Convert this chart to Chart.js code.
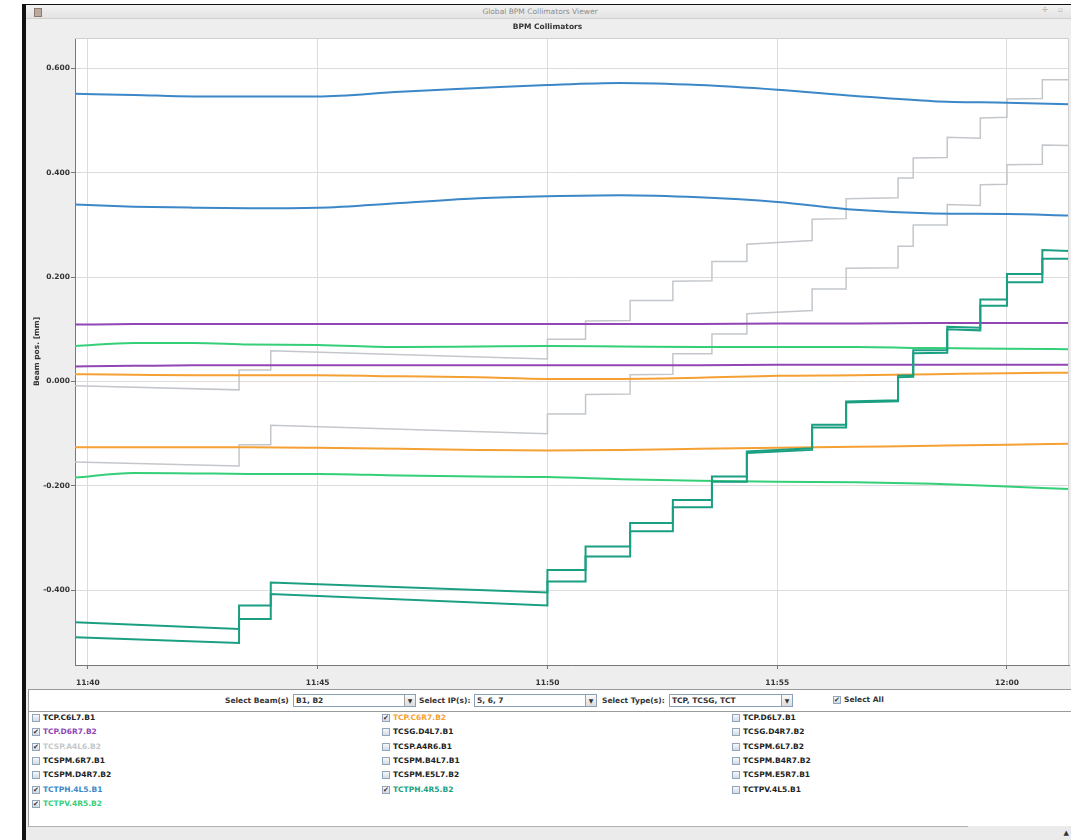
<!DOCTYPE html>
<html>
<head>
<meta charset="utf-8">
<title>Global BPM Collimators Viewer</title>
<script src="https://cdn.jsdelivr.net/npm/chart.js@4.4.1/dist/chart.umd.min.js"></script>
<style>
  html, body { margin: 0; padding: 0; background: #fff; }
  body { width: 1071px; height: 840px; position: relative; overflow: hidden; font-family: "DejaVu Sans", sans-serif; }
  #frame { position: absolute; left: 22px; top: 4px; width: 1049px; height: 836px; background: #eeeeee; border-left: 4px solid #111; border-top: 1px solid #111; box-sizing: border-box; }
  #titlebar { position: absolute; left: 26px; top: 5px; width: 1045px; height: 14px; background: linear-gradient(#f2f2f2, #e3e3e3); border-bottom: 1px solid #d0d0d0; box-sizing: border-box; }
  #titlebar .t { position: absolute; left: 0; top: 2px; width: 1028px; text-align: center; font-size: 7.5px; color: #8c8c8c; }
  #titlebar .icon { position: absolute; left: 8px; top: 3px; width: 6px; height: 7px; background: #b9a9a0; border: 1px solid #8a7a70; }
  #titlebar .btn { position: absolute; top: 1px; font-size: 7px; color: #b0b0b0; }
  #plot { position: absolute; left: 26px; top: 19px; }
  #sel { position: absolute; left: 28px; top: 689px; width: 1043px; height: 23px; background: #fff; border-top: 1px solid #9a9a9a; border-bottom: 1px solid #9a9a9a; border-left: 1px solid #9a9a9a; box-sizing: border-box; }
  .lbl { position: absolute; top: 6px; font-size: 7.5px; font-weight: bold; color: #333; white-space: nowrap; }
  .combo { position: absolute; top: 4px; height: 13px; background: #fff; border: 1px solid #8aa0b8; box-sizing: border-box; }
  .combo span { position: absolute; left: 2px; top: 1px; font-size: 7.5px; font-weight: bold; color: #333; white-space: nowrap; }
  .combo i { position: absolute; right: 0; top: 0; width: 10px; height: 11px; background: linear-gradient(#fafafa, #dcdcdc); border-left: 1px solid #a0a0a0; font-style: normal; font-size: 6px; text-align: center; line-height: 11px; color: #333; }
  #list { position: absolute; left: 28px; top: 712px; width: 1043px; height: 114px; background: #fff; border-left: 1px solid #9a9a9a; box-sizing: border-box; }
  .row { position: absolute; height: 12px; white-space: nowrap; }
  .box { position: absolute; left: 0; top: 2px; width: 8px; height: 8px; border: 1px solid #93a5b8; background: linear-gradient(#f6f8fb, #d2dbe5); box-sizing: border-box; font-size: 7px; line-height: 7px; text-align: center; color: #333; }
  .name { position: absolute; left: 11px; top: 1px; font-size: 7.5px; font-weight: bold; }
  #status { position: absolute; left: 26px; top: 826px; width: 1045px; height: 14px; background: #ebebeb; }
  #status .line { position: absolute; left: 2px; top: 0; width: 940px; height: 1px; background: #b0b0b0; }
  #status .corner { position: absolute; right: 2px; top: 3px; font-size: 7px; color: #333; }
</style>
</head>
<body>
<div id="frame"></div>
<div id="titlebar"><div class="icon"></div><div class="t">Global BPM Collimators Viewer</div><div class="btn" style="left:1016px">✢</div><div class="btn" style="left:1032px">▫</div></div>
<canvas id="plot" width="1045" height="672"></canvas>
<div id="sel">
  <div class="lbl" style="left:196px">Select Beam(s)</div>
  <div class="combo" style="left:264px;width:123px"><span>B1, B2</span><i>▼</i></div>
  <div class="lbl" style="left:390px">Select IP(s):</div>
  <div class="combo" style="left:445px;width:123px"><span>5, 6, 7</span><i>▼</i></div>
  <div class="lbl" style="left:573px">Select Type(s):</div>
  <div class="combo" style="left:640px;width:124px"><span>TCP, TCSG, TCT</span><i>▼</i></div>
  <div class="row" style="left:804px;top:4px"><div class="box">✔</div><div class="name" style="color:#333">Select All</div></div>
</div>
<div id="list"></div>
<div id="status"><div class="line"></div><div class="corner">▲</div></div>

<script>
// minutes after 11:00
const xTickMinutes = [40, 45, 50, 55, 60]
const yTickValues = [-0.4, -0.2, 0, 0.2, 0.4, 0.6]

// boundaries of the collimator steps (minutes after 11:00)
const stepEdges = [39.72, 43.29, 43.98, 50.0, 50.83, 51.8, 52.73, 53.58, 54.34, 55.76, 56.5, 57.63, 57.96, 58.7, 59.42, 60.0, 60.77, 61.35]

// [level at segment start, level at segment end] for each step
const tcspA4L6Up = [[-0.008, -0.016], [0.022, 0.022], [0.059, 0.043], [0.081, 0.081], [0.116, 0.117], [0.155, 0.155], [0.192, 0.193], [0.230, 0.230], [0.263, 0.270], [0.311, 0.312], [0.350, 0.352], [0.390, 0.390], [0.428, 0.429], [0.468, 0.466], [0.505, 0.506], [0.541, 0.542], [0.578, 0.578]]
const tcspA4L6Down = [[-0.154, -0.162], [-0.121, -0.121], [-0.084, -0.100], [-0.062, -0.062], [-0.025, -0.024], [0.013, 0.014], [0.053, 0.053], [0.091, 0.091], [0.130, 0.136], [0.177, 0.177], [0.217, 0.218], [0.259, 0.259], [0.300, 0.300], [0.339, 0.337], [0.377, 0.378], [0.415, 0.416], [0.453, 0.452]]
const tctph4R5Up = [[-0.461, -0.474], [-0.429, -0.429], [-0.385, -0.404], [-0.361, -0.361], [-0.316, -0.316], [-0.271, -0.271], [-0.227, -0.227], [-0.182, -0.182], [-0.134, -0.128], [-0.083, -0.083], [-0.038, -0.036], [0.011, 0.012], [0.060, 0.060], [0.105, 0.103], [0.157, 0.157], [0.206, 0.206], [0.252, 0.250]]
const tctph4R5Down = [[-0.490, -0.501], [-0.455, -0.455], [-0.407, -0.429], [-0.383, -0.383], [-0.335, -0.335], [-0.287, -0.287], [-0.241, -0.241], [-0.192, -0.192], [-0.137, -0.131], [-0.088, -0.088], [-0.040, -0.038], [0.008, 0.009], [0.054, 0.055], [0.100, 0.098], [0.145, 0.145], [0.190, 0.190], [0.235, 0.235]]

// slowly drifting readings
const driftTimes = [39.72, 41.0, 42.3, 43.5, 45.0, 46.8, 48.5, 50.0, 51.6, 53.3, 55.0, 56.7, 58.4, 60.0, 61.35]
const tctph4L5Up = [0.551, 0.549, 0.546, 0.546, 0.546, 0.555, 0.562, 0.568, 0.572, 0.568, 0.559, 0.547, 0.537, 0.534, 0.531]
const tctph4L5Down = [0.339, 0.335, 0.333, 0.332, 0.333, 0.342, 0.351, 0.355, 0.357, 0.353, 0.344, 0.329, 0.322, 0.321, 0.318]
const tcpD6R7Up = [0.109, 0.110, 0.110, 0.110, 0.110, 0.110, 0.110, 0.110, 0.110, 0.110, 0.111, 0.111, 0.112, 0.112, 0.112]
const tcpD6R7Down = [0.029, 0.030, 0.031, 0.031, 0.031, 0.031, 0.031, 0.031, 0.031, 0.031, 0.032, 0.032, 0.032, 0.032, 0.032]
const tcpC6R7Up = [0.014, 0.013, 0.012, 0.012, 0.012, 0.010, 0.008, 0.005, 0.005, 0.007, 0.011, 0.012, 0.014, 0.016, 0.017]
const tcpC6R7Down = [-0.126, -0.126, -0.126, -0.126, -0.127, -0.129, -0.131, -0.132, -0.131, -0.129, -0.127, -0.125, -0.123, -0.121, -0.119]
const tctpv4R5Up = [0.068, 0.074, 0.074, 0.071, 0.070, 0.066, 0.067, 0.068, 0.067, 0.066, 0.066, 0.066, 0.064, 0.063, 0.062]
const tctpv4R5Down = [-0.184, -0.175, -0.176, -0.177, -0.177, -0.180, -0.182, -0.183, -0.187, -0.190, -0.192, -0.193, -0.196, -0.201, -0.206]

// checkbox list, column by column
const listCol1 = ["TCP.C6L7.B1", "TCP.D6R7.B2", "TCSP.A4L6.B2", "TCSPM.6R7.B1", "TCSPM.D4R7.B2", "TCTPH.4L5.B1", "TCTPV.4R5.B2"]
const listCol2 = ["TCP.C6R7.B2", "TCSG.D4L7.B1", "TCSP.A4R6.B1", "TCSPM.B4L7.B1", "TCSPM.E5L7.B2", "TCTPH.4R5.B2"]
const listCol3 = ["TCP.D6L7.B1", "TCSG.D4R7.B2", "TCSPM.6L7.B2", "TCSPM.B4R7.B2", "TCSPM.E5R7.B1", "TCTPV.4L5.B1"]

const colours = {
  "TCP.C6R7.B2": "#f5a033",
  "TCP.D6R7.B2": "#9146b4",
  "TCSP.A4L6.B2": "#c3c7cb",
  "TCTPH.4L5.B1": "#3b87c8",
  "TCTPH.4R5.B2": "#1b9f82",
  "TCTPV.4R5.B2": "#35cf78",
}

// build the checkbox list
const list = document.getElementById("list")
;[listCol1, listCol2, listCol3].forEach((col, c) => {
  col.forEach((name, r) => {
    const row = document.createElement("div")
    row.className = "row"
    row.style.left = [3, 353, 703][c] + "px"
    row.style.top = (r * 14.3) + "px"
    const colour = colours[name]
    row.innerHTML = '<div class="box">' + (colour ? "✔" : "") + '</div>' +
      '<div class="name" style="color:' + (colour || "#222") + '">' + name + '</div>'
    list.appendChild(row)
  })
})

const stepPoints = (levels) => {
  const pts = []
  levels.forEach(([a, b], i) => {
    pts.push({ x: stepEdges[i], y: a }, { x: stepEdges[i + 1], y: b })
  })
  return pts
}
const driftPoints = (values) => values.map((v, i) => ({ x: driftTimes[i], y: v }))

const line = (label, data, colour, width, smooth) => ({
  label, data, borderColor: colour, backgroundColor: colour,
  borderWidth: width, pointRadius: 0, fill: false,
  tension: smooth ? 0.4 : 0,
  cubicInterpolationMode: smooth ? "monotone" : "default",
})

// white plot background and light frame
const plotFrame = {
  id: "plotFrame",
  beforeDraw(chart) {
    const { ctx, chartArea: a } = chart
    ctx.save()
    ctx.fillStyle = "#ffffff"
    ctx.fillRect(a.left, a.top, a.right - a.left, a.bottom - a.top)
    ctx.restore()
  },
  afterDatasetsDraw(chart) {
    const { ctx, chartArea: a } = chart
    ctx.save()
    ctx.strokeStyle = "#cfcfcf"
    ctx.lineWidth = 1
    ctx.beginPath()
    ctx.moveTo(a.left, a.top + 0.5)
    ctx.lineTo(a.right - 0.5, a.top + 0.5)
    ctx.lineTo(a.right - 0.5, a.bottom)
    ctx.stroke()
    ctx.restore()
  },
}

const tickFont = { family: "'DejaVu Sans', sans-serif", size: 7.5, weight: "bold" }

new Chart(document.getElementById("plot").getContext("2d"), {
  type: "line",
  data: {
    datasets: [
      line("TCTPH.4R5.B2 up", stepPoints(tctph4R5Up), colours["TCTPH.4R5.B2"], 2, false),
      line("TCTPH.4R5.B2 down", stepPoints(tctph4R5Down), colours["TCTPH.4R5.B2"], 2, false),
      line("TCTPH.4L5.B1 up", driftPoints(tctph4L5Up), colours["TCTPH.4L5.B1"], 2, true),
      line("TCTPH.4L5.B1 down", driftPoints(tctph4L5Down), colours["TCTPH.4L5.B1"], 2, true),
      line("TCP.D6R7.B2 up", driftPoints(tcpD6R7Up), colours["TCP.D6R7.B2"], 2, true),
      line("TCP.D6R7.B2 down", driftPoints(tcpD6R7Down), colours["TCP.D6R7.B2"], 2, true),
      line("TCP.C6R7.B2 up", driftPoints(tcpC6R7Up), colours["TCP.C6R7.B2"], 2, true),
      line("TCP.C6R7.B2 down", driftPoints(tcpC6R7Down), colours["TCP.C6R7.B2"], 2, true),
      line("TCTPV.4R5.B2 up", driftPoints(tctpv4R5Up), colours["TCTPV.4R5.B2"], 2, true),
      line("TCTPV.4R5.B2 down", driftPoints(tctpv4R5Down), colours["TCTPV.4R5.B2"], 2, true),
      line("TCSP.A4L6.B2 up", stepPoints(tcspA4L6Up), colours["TCSP.A4L6.B2"], 1.5, false),
      line("TCSP.A4L6.B2 down", stepPoints(tcspA4L6Down), colours["TCSP.A4L6.B2"], 1.5, false),
    ],
  },
  options: {
    responsive: false,
    animation: false,
    layout: { padding: { left: 0, right: 2, top: 0, bottom: 0 } },
    plugins: {
      legend: { display: false },
      tooltip: { enabled: false },
      title: {
        display: true,
        text: "BPM Collimators",
        color: "#333",
        font: tickFont,
        padding: { top: 3.5, bottom: 6.5 },
      },
    },
    scales: {
      x: {
        type: "linear",
        min: 39.72,
        max: 61.35,
        afterBuildTicks: (scale) => { scale.ticks = xTickMinutes.map((v) => ({ value: v })) },
        afterFit: (scale) => { scale.height = 26 },
        ticks: {
          color: "#333",
          font: tickFont,
          padding: 10,
          maxRotation: 0,
          autoSkip: false,
          callback: (v) => (11 + Math.floor(v / 60)) + ":" + String(v % 60).padStart(2, "0"),
        },
        grid: { color: "#dcdcdc", tickColor: "#777", tickLength: 4 },
        border: { color: "#777" },
      },
      y: {
        min: -0.543,
        max: 0.658,
        afterBuildTicks: (scale) => { scale.ticks = yTickValues.map((v) => ({ value: v })) },
        afterFit: (scale) => { scale.width = 49 },
        ticks: {
          color: "#333",
          font: tickFont,
          padding: 1,
          callback: (v) => v.toFixed(3),
        },
        title: {
          display: true,
          text: "Beam pos. [mm]",
          color: "#333",
          font: tickFont,
          padding: { top: 6.5, bottom: 0 },
        },
        grid: { color: "#dcdcdc", tickColor: "#777", tickLength: 4 },
        border: { color: "#777" },
      },
    },
  },
  plugins: [plotFrame],
})
</script>
</body>
</html>
